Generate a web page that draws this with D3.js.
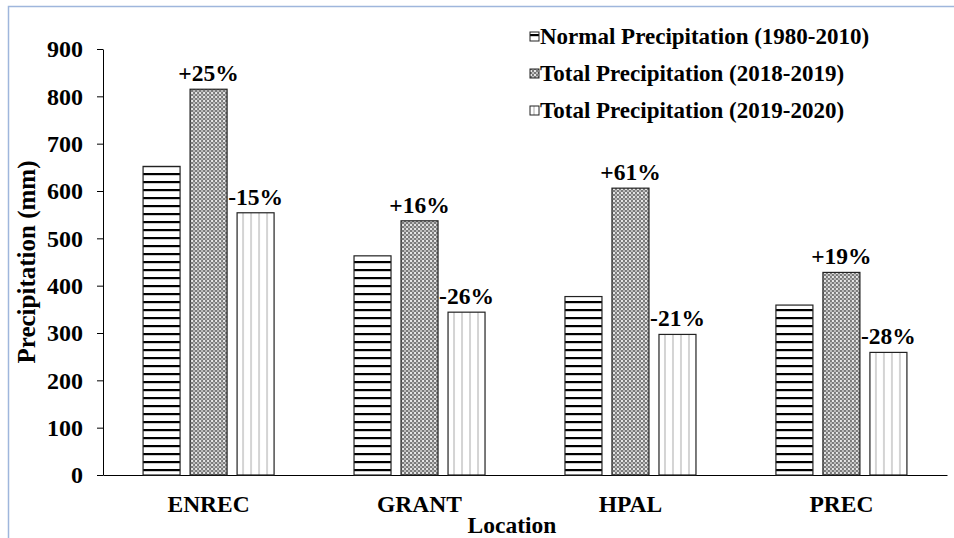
<!DOCTYPE html>
<html>
<head>
<meta charset="utf-8">
<script src="https://cdn.jsdelivr.net/npm/d3@7"></script>
<style>
  body { margin: 0; background: #fff; }
  text { font-family: "Liberation Serif", "Times New Roman", serif; font-weight: bold; fill: #000; }
</style>
</head>
<body>
<div id="chart"></div>
<script>
// data
const locations = ["ENREC", "GRANT", "HPAL", "PREC"];
const seriesNames = [
    "Normal Precipitation (1980-2010)",
    "Total Precipitation (2018-2019)",
    "Total Precipitation (2019-2020)"
];
const normalPrecip = [652, 463, 377, 359];
const total1819 = [815, 537, 606, 428];
const total1920 = [554, 344, 297, 259];
const changes1819 = ["+25%", "+16%", "+61%", "+19%"];
const changes1920 = ["-15%", "-26%", "-21%", "-28%"];
const yTicks = [0, 100, 200, 300, 400, 500, 600, 700, 800, 900];

const width = 954;
const height = 538;
const margin = { top: 49, right: 7, bottom: 63, left: 103 };

const svg = d3.select("#chart")
    .append("svg")
    .attr("width", width)
    .attr("height", height);

// patterns for the three series
const defs = svg.append("defs");

const pHoriz = defs.append("pattern")
    .attr("id", "pat-horiz")
    .attr("patternUnits", "userSpaceOnUse")
    .attr("width", 8).attr("height", 8);
pHoriz.append("rect").attr("width", 8).attr("height", 8).attr("fill", "#fff");
pHoriz.append("rect").attr("y", 5).attr("width", 8).attr("height", 2.2).attr("fill", "#000");

const pCheck = defs.append("pattern")
    .attr("id", "pat-check")
    .attr("patternUnits", "userSpaceOnUse")
    .attr("width", 4).attr("height", 4);
pCheck.append("rect").attr("width", 4).attr("height", 4).attr("fill", "#7a7a7a");
pCheck.append("rect").attr("x", 0).attr("y", 0).attr("width", 2).attr("height", 2).attr("fill", "#e6e6e6");
pCheck.append("rect").attr("x", 2).attr("y", 2).attr("width", 2).attr("height", 2).attr("fill", "#bdbdbd");

const pVert = defs.append("pattern")
    .attr("id", "pat-vert")
    .attr("patternUnits", "userSpaceOnUse")
    .attr("width", 8).attr("height", 8);
pVert.append("rect").attr("width", 8).attr("height", 8).attr("fill", "#fff");
pVert.append("rect").attr("x", 3).attr("width", 2).attr("height", 8).attr("fill", "#d4d4d4");

const fills = ["url(#pat-horiz)", "url(#pat-check)", "url(#pat-vert)"];

// outer frame
svg.append("rect")
    .attr("x", 8.5).attr("y", 6.5)
    .attr("width", width + 20).attr("height", height + 20)
    .attr("fill", "none")
    .attr("stroke", "#9fb6dc")
    .attr("stroke-width", 1.5);

const x0 = d3.scaleBand()
    .domain(locations)
    .range([margin.left, width - margin.right])
    .paddingInner(0.379)
    .paddingOuter(0.19);

const x1 = d3.scaleBand()
    .domain(seriesNames)
    .range([0, x0.bandwidth()])
    .paddingInner(0.213);

const y = d3.scaleLinear()
    .domain([0, 900])
    .range([height - margin.bottom, margin.top]);

// y axis
const yAxis = svg.append("g")
    .attr("transform", `translate(${margin.left},0)`)
    .call(d3.axisLeft(y).tickValues(yTicks).tickSize(6).tickPadding(14).tickSizeOuter(0));
yAxis.select(".domain").attr("stroke", "#000");
yAxis.selectAll(".tick line").attr("stroke", "#000");
yAxis.selectAll("text")
    .style("font-size", "24px")
    .style("font-family", "'Liberation Serif', 'Times New Roman', serif")
    .style("font-weight", "bold");

// x axis
const xAxis = svg.append("g")
    .attr("transform", `translate(0,${y(0)})`)
    .call(d3.axisBottom(x0).tickSize(0).tickPadding(20).tickSizeOuter(0));
xAxis.select(".domain").attr("stroke", "#000");
xAxis.selectAll("text")
    .style("font-size", "23.5px")
    .style("font-family", "'Liberation Serif', 'Times New Roman', serif")
    .style("font-weight", "bold");

// bars
const rows = locations.map((loc, i) => ({
    loc: loc,
    values: [normalPrecip[i], total1819[i], total1920[i]],
    labels: [null, changes1819[i], changes1920[i]]
}));

const groups = svg.selectAll(".group")
    .data(rows)
    .enter()
    .append("g")
    .attr("class", "group")
    .attr("transform", d => `translate(${x0(d.loc)},0)`);

groups.selectAll("rect")
    .data(d => d.values.map((v, j) => ({ series: seriesNames[j], v: v, j: j })))
    .enter()
    .append("rect")
    .attr("x", d => x1(d.series))
    .attr("y", d => y(d.v))
    .attr("width", x1.bandwidth())
    .attr("height", d => y(0) - y(d.v))
    .attr("fill", d => fills[d.j])
    .attr("stroke", "#222")
    .attr("stroke-width", 1.2);

groups.selectAll(".pct")
    .data(d => d.values.map((v, j) => ({ series: seriesNames[j], v: v, label: d.labels[j] })).filter(d => d.label))
    .enter()
    .append("text")
    .attr("class", "pct")
    .attr("x", d => x1(d.series) + x1.bandwidth() / 2)
    .attr("y", d => y(d.v) - 8)
    .attr("text-anchor", "middle")
    .style("font-size", "23.5px")
    .text(d => d.label);

// axis titles
svg.append("text")
    .attr("transform", `translate(35,${(margin.top + height - margin.bottom) / 2}) rotate(-90)`)
    .attr("text-anchor", "middle")
    .style("font-size", "25px")
    .text("Precipitation (mm)");

svg.append("text")
    .attr("x", 512)
    .attr("y", 533)
    .attr("text-anchor", "middle")
    .style("font-size", "23.5px")
    .text("Location");

// legend
const legend = svg.append("g")
    .attr("transform", "translate(530,0)");

const legendItems = legend.selectAll(".item")
    .data(seriesNames)
    .enter()
    .append("g")
    .attr("class", "item")
    .attr("transform", (d, i) => `translate(0,${37 + i * 37})`);

legendItems.append("rect")
    .attr("x", 0).attr("y", -5)
    .attr("width", 9).attr("height", 9)
    .attr("fill", (d, i) => fills[i])
    .attr("stroke", "#222")
    .attr("stroke-width", 1);

legendItems.append("text")
    .attr("x", 10)
    .attr("y", 7)
    .style("font-size", "23px")
    .text(d => d);
</script>
</body>
</html>
